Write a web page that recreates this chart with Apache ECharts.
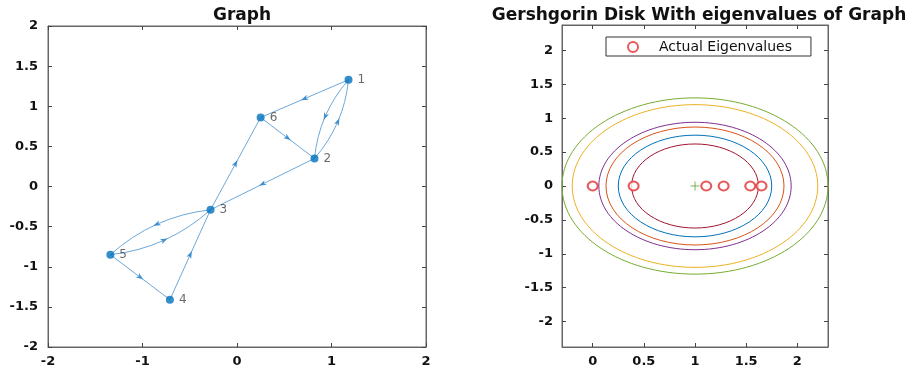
<!DOCTYPE html>
<html>
<head>
<meta charset="utf-8">
<script src="https://cdn.jsdelivr.net/npm/echarts@6/dist/echarts.min.js"></script>
<style>
  html, body { margin: 0; padding: 0; background: #ffffff; }
  #chart { width: 922px; height: 371px; }
</style>
</head>
<body>
<div id="chart"></div>
<script>
// ---- Directed graph: node layout and edges ----
const nodeNames = ['1', '2', '3', '4', '5', '6'];
const nodeX = [1.18, 0.82, -0.28, -0.71, -1.34, 0.25];
const nodeY = [1.33, 0.35, -0.29, -1.41, -0.85, 0.86];
const edgeFrom = [1, 1, 2, 6, 2, 3, 3, 5, 5, 4];
const edgeTo   = [6, 2, 1, 2, 3, 6, 5, 3, 4, 3];

// ---- Gershgorin disks (centre on real axis, radius) and eigenvalues ----
const diskCenter = [1, 1, 1, 1, 1, 1];
const diskRadius = [0.75, 0.87, 1.2, 0.94, 1.3, 0.62];
const eigenReal = [0, 0.40, 1.11, 1.28, 1.54, 1.65];
const eigenImag = [0, 0, 0, 0, 0, 0];
const centerMark = [[1, 0]];

// ---- Tick labels ----
const graphXTicks = [-2, -1, 0, 1, 2];
const graphYTicks = [-2, -1.5, -1, -0.5, 0, 0.5, 1, 1.5, 2];
const diskXTicks = [0, 0.5, 1, 1.5, 2];
const diskYTicks = [-2, -1.5, -1, -0.5, 0, 0.5, 1, 1.5, 2];

// ---- Styling ----
const FONT = 'DejaVu Sans';
const diskColors = ['#0072BD', '#D95319', '#EDB120', '#7E2F8E', '#77AC30', '#A2142F'];
const EDGE_COLOR = '#6ea8d8';
const ARROW_COLOR = '#3f8fcf';
const NODE_COLOR = '#0072BD';
const BOX_COLOR = '#666';
const BEND = 0.08;

const edgeData = edgeFrom.map((s, i) => [s, edgeTo[i]]);
const diskData = diskCenter.map((c, i) => [c, diskRadius[i]]);
const eigenData = eigenReal.map((x, i) => [x, eigenImag[i]]);
const nodeData = nodeNames.map((n, i) => ({ name: n, value: [nodeX[i], nodeY[i]] }));

function hasReverse(s, t) {
  for (let i = 0; i < edgeFrom.length; i++) {
    if (edgeFrom[i] === t && edgeTo[i] === s) return true;
  }
  return false;
}

// Each edge: straight line (or bowed curve for antiparallel pairs) with a mid-edge arrowhead
function renderEdge(params, api) {
  const s = api.value(0), t = api.value(1);
  const p1 = api.coord([nodeX[s - 1], nodeY[s - 1]]);
  const p2 = api.coord([nodeX[t - 1], nodeY[t - 1]]);
  const dx = p2[0] - p1[0], dy = p2[1] - p1[1];
  const L = Math.hypot(dx, dy);
  const ux = dx / L, uy = dy / L;
  const nx = -uy, ny = ux;
  const paired = hasReverse(s, t);
  const off = paired ? BEND * L : 0;
  const midX = (p1[0] + p2[0]) / 2, midY = (p1[1] + p2[1]) / 2;
  const mx = midX + nx * off, my = midY + ny * off;
  const children = [];
  if (paired) {
    children.push({
      type: 'bezierCurve',
      shape: { x1: p1[0], y1: p1[1], x2: p2[0], y2: p2[1], cpx1: midX + nx * 2 * off, cpy1: midY + ny * 2 * off },
      style: { stroke: EDGE_COLOR, fill: null, lineWidth: 1 }
    });
  } else {
    children.push({
      type: 'line',
      shape: { x1: p1[0], y1: p1[1], x2: p2[0], y2: p2[1] },
      style: { stroke: EDGE_COLOR, lineWidth: 1 }
    });
  }
  children.push({
    type: 'polygon',
    shape: {
      points: [
        [mx + ux * 4, my + uy * 4],
        [mx - ux * 3.5 + nx * 2.6, my - uy * 3.5 + ny * 2.6],
        [mx - ux * 1.5, my - uy * 1.5],
        [mx - ux * 3.5 - nx * 2.6, my - uy * 3.5 - ny * 2.6]
      ]
    },
    style: { fill: ARROW_COLOR }
  });
  return { type: 'group', children: children };
}

function renderDisk(params, api) {
  const c = api.coord([api.value(0), 0]);
  const r = api.value(1);
  const sz = api.size([r, r], [api.value(0), 0]);
  return {
    type: 'ellipse',
    shape: { cx: c[0], cy: c[1], rx: sz[0], ry: sz[1] },
    style: { fill: null, stroke: diskColors[params.dataIndex], lineWidth: 1 }
  };
}

const labelStyle = { color: '#111', fontFamily: FONT, fontWeight: 'bold', fontSize: 13 };
const tickIn = { show: true, inside: true, length: 4, lineStyle: { color: '#444', width: 1 } };

function valueAxis(opts) {
  return Object.assign({
    type: 'value',
    splitLine: { show: false },
    axisLine: { show: true, onZero: false, lineStyle: { color: BOX_COLOR, width: 1 } },
    axisTick: tickIn
  }, opts);
}

const chart = echarts.init(document.getElementById('chart'), null, { renderer: 'canvas' });

chart.setOption({
  backgroundColor: '#ffffff',
  animation: false,
  title: [
    { text: 'Graph', left: 237, top: 2, textAlign: 'center',
      textStyle: { fontFamily: FONT, fontWeight: 'bold', fontSize: 17, color: '#111' } },
    { text: 'Gershgorin Disk With eigenvalues of Graph', left: 694, top: 2, textAlign: 'center',
      textStyle: { fontFamily: FONT, fontWeight: 'bold', fontSize: 17, color: '#111' } }
  ],
  legend: {
    data: ['Actual Eigenvalues'],
    left: 606, top: 37,
    orient: 'vertical',
    padding: [3, 19, 2, 21],
    itemWidth: 42, itemHeight: 10,
    borderColor: '#333', borderWidth: 1,
    backgroundColor: '#ffffff',
    textStyle: { fontFamily: FONT, fontSize: 14, color: '#111' }
  },
  grid: [
    { left: 48, top: 26, width: 378, height: 321, show: true, borderColor: BOX_COLOR, borderWidth: 1, backgroundColor: '#fff' },
    { left: 562, top: 25, width: 266, height: 322, show: true, borderColor: BOX_COLOR, borderWidth: 1, backgroundColor: '#fff' }
  ],
  xAxis: [
    valueAxis({ gridIndex: 0, min: -2, max: 2, interval: 1, position: 'bottom',
      axisLabel: Object.assign({ margin: 8 }, labelStyle) }),
    valueAxis({ gridIndex: 0, min: -2, max: 2, interval: 1, position: 'top',
      axisLabel: { show: false } }),
    valueAxis({ gridIndex: 1, min: -0.3, max: 2.3, position: 'bottom',
      axisLabel: Object.assign({ margin: 8, customValues: diskXTicks }, labelStyle),
      axisTick: Object.assign({ customValues: diskXTicks }, tickIn) }),
    valueAxis({ gridIndex: 1, min: -0.3, max: 2.3, position: 'top',
      axisLabel: { show: false },
      axisTick: Object.assign({ customValues: diskXTicks }, tickIn) })
  ],
  yAxis: [
    valueAxis({ gridIndex: 0, min: -2, max: 2, interval: 0.5, position: 'left',
      axisLabel: Object.assign({ margin: 10 }, labelStyle) }),
    valueAxis({ gridIndex: 0, min: -2, max: 2, interval: 0.5, position: 'right',
      axisLabel: { show: false } }),
    valueAxis({ gridIndex: 1, min: -2.375, max: 2.375, position: 'left',
      axisLabel: Object.assign({ margin: 9, customValues: diskYTicks }, labelStyle),
      axisTick: Object.assign({ customValues: diskYTicks }, tickIn) }),
    valueAxis({ gridIndex: 1, min: -2.375, max: 2.375, position: 'right',
      axisLabel: { show: false },
      axisTick: Object.assign({ customValues: diskYTicks }, tickIn) })
  ],
  series: [
    {
      type: 'custom', name: 'edges', xAxisIndex: 0, yAxisIndex: 0,
      renderItem: renderEdge, data: edgeData, silent: true, z: 2
    },
    {
      type: 'scatter', name: 'nodes', xAxisIndex: 0, yAxisIndex: 0,
      data: nodeData, symbol: 'circle', symbolSize: 8, z: 3,
      itemStyle: { color: NODE_COLOR },
      label: { show: true, position: 'right', distance: 5, formatter: '{b}',
        fontFamily: FONT, fontSize: 12, color: '#444' }
    },
    {
      type: 'custom', name: 'disks', xAxisIndex: 2, yAxisIndex: 2,
      renderItem: renderDisk, data: diskData, silent: true, z: 2
    },
    {
      type: 'scatter', name: 'centre', xAxisIndex: 2, yAxisIndex: 2,
      data: centerMark, symbol: 'path://M5,0L5,10M0,5L10,5', symbolSize: 9, z: 3,
      itemStyle: { color: 'none', borderColor: '#5aa02c', borderWidth: 1 }
    },
    {
      type: 'scatter', name: 'Actual Eigenvalues', xAxisIndex: 2, yAxisIndex: 2,
      data: eigenData, symbol: 'emptyCircle', symbolSize: [10, 9], z: 4,
      itemStyle: { color: '#e03030', borderColor: '#e03030', borderWidth: 1.2 }
    }
  ]
});
</script>
</body>
</html>
